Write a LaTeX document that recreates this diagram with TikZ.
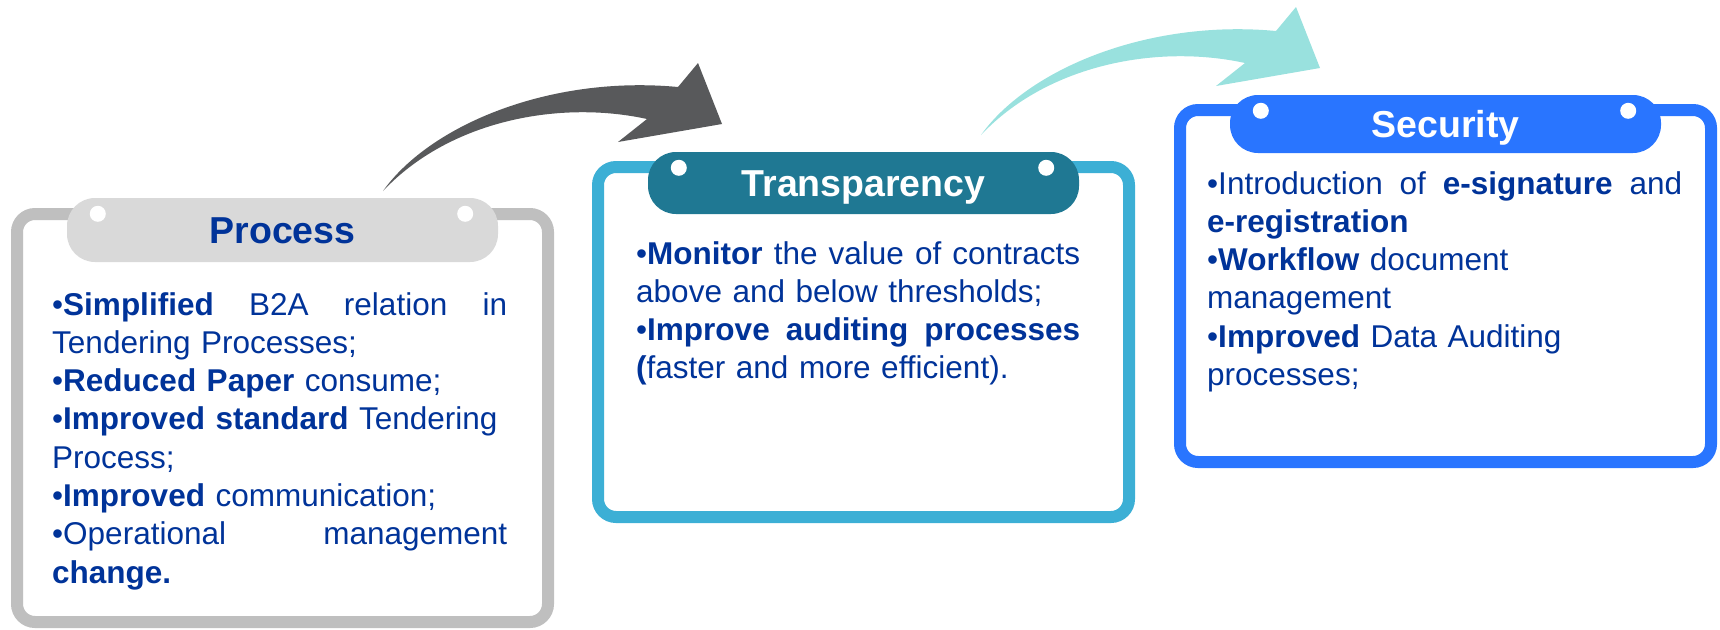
\documentclass[tikz,border=0pt]{standalone}
\usepackage{fontspec}
\setmainfont{Liberation Sans}
\usetikzlibrary{positioning}

\definecolor{procgray}{RGB}{191,191,191}
\definecolor{proctabgray}{RGB}{217,217,217}
\definecolor{transblue}{RGB}{60,175,213}
\definecolor{transtabteal}{RGB}{31,120,147}
\definecolor{secblue}{RGB}{41,117,255}
\definecolor{textblue}{RGB}{0,51,153}
\definecolor{arrowgray}{RGB}{88,89,91}
\definecolor{arrowteal}{RGB}{153,225,222}

\newcommand{\spreadline}[1]{\makebox[\hsize][s]{\spaceskip=0pt\xspaceskip=0pt\relax #1}}

\begin{document}
\begin{tikzpicture}[x=1pt, y=-1pt,
					frame/.style={draw, line width=12pt, rounded corners=18pt, fill=white, minimum width=531pt},
					tab/.style={rounded corners=28pt, minimum width=431pt, inner sep=0pt,
						font=\fontsize{37.5}{40}\selectfont\bfseries, text height=27pt, text depth=0pt},
					body/.style={anchor=north west, inner sep=0pt, align=left, text=textblue,
						font=\fontsize{31.5}{38.3}\selectfont}]

	\useasboundingbox (0,0) rectangle (1720,629);

	% frames
	\node[frame, draw=procgray, minimum height=408pt] (procframe) at (282.5,418) {};
	\node[frame, draw=transblue, minimum height=350pt] (transframe) at (863.5,342) {};
	\node[frame, draw=secblue, minimum height=352pt] (secframe) at (1445.5,286) {};

	% title tabs
	\node[tab, fill=proctabgray, text=textblue, minimum height=64pt] (proctab) at ([yshift=-22pt]procframe.north) {Process};
	\node[tab, fill=transtabteal, text=white, minimum height=62pt] (transtab) at ([yshift=-22pt]transframe.north) {Transparency};
	\node[tab, fill=secblue, text=white, minimum height=58pt] (sectab) at ([yshift=-20pt]secframe.north) {Security};

	\foreach \t in {proctab, transtab, sectab}{
		\fill[white] ([shift={(31pt,-16pt)}]\t.north west) circle[radius=8pt]
					 ([shift={(-33pt,-16pt)}]\t.north east) circle[radius=8pt];
	}

	% texts
	\node[body, text width=455pt] (proctext) at (52,292)
		{\spreadline{•\textbf{Simplified} B2A relation in}\\
		 Tendering Processes;\\
		 •\textbf{Reduced Paper} consume;\\
		 •\textbf{Improved standard} Tendering\\
		 Process;\\
		 •\textbf{Improved} communication;\\
		 \spreadline{•Operational management}\\
		 \textbf{change.}};
	\node[body, text width=444pt] (transtext) at (636,241)
		{\spreadline{•\textbf{Monitor} the value of contracts}\\
		 above and below thresholds;\\
		 \spreadline{•\textbf{Improve auditing processes}}\\
		 \textbf{(}faster and more efficient).};
	\node[body, text width=475pt] (sectext) at (1207,171)
		{\spreadline{•Introduction of \textbf{e-signature} and}\\
		 \textbf{e-registration}\\
		 •\textbf{Workflow} document\\
		 management\\
		 •\textbf{Improved} Data Auditing\\
		 processes;};

	% curved arrows
	\foreach \ax/\ay/\col in {383/191/arrowgray, 981/135/arrowteal}
		\fill[\col, shift={(\ax,\ay)}] (0,0) .. controls (47,-66) and (167,-116) .. (295,-104)
			-- (315,-128) -- (339,-67) -- (235,-49) -- (264,-72)
			.. controls (177,-91) and (67,-71) .. (0,0) -- cycle;
\end{tikzpicture}
\end{document}
